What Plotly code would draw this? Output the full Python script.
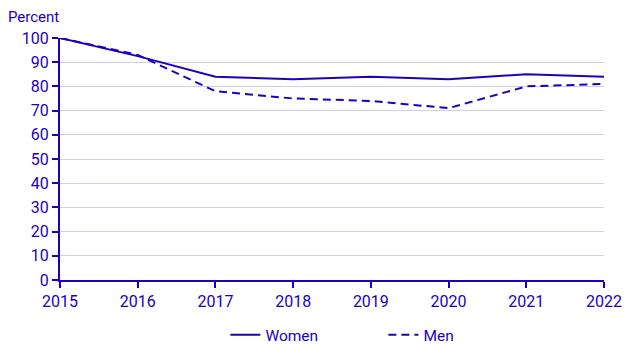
import plotly.graph_objects as go

years = [2015, 2016, 2017, 2018, 2019, 2020, 2021, 2022]
women = [100, 92.5, 84, 83, 84, 83, 85, 84]
men = [100, 93, 78, 75, 74, 71, 80, 81]

color = "#1e00be"
fig = go.Figure()
fig.add_trace(go.Scatter(x=years, y=women, mode="lines", name="Women",
                         line=dict(color=color, width=2)))
fig.add_trace(go.Scatter(x=years, y=men, mode="lines", name="Men",
                         line=dict(color=color, width=2, dash="8px,5px")))

fig.update_layout(
    width=627, height=343,
    margin=dict(l=52, r=31, t=30, b=71, autoexpand=False),
    paper_bgcolor="white", plot_bgcolor="white",
    font=dict(family="Roboto", size=16, color=color),
    showlegend=True,
    legend=dict(orientation="h", x=0.304, xanchor="left", y=-0.158, yanchor="top",
                font=dict(size=15.5, color=color), entrywidth=113),
    xaxis=dict(range=[2015, 2022], tickmode="array", tickvals=years,
               ticktext=[str(y) for y in years], showgrid=False,
               showline=True, linecolor=color, linewidth=2,
               ticks="outside", tickcolor=color, ticklen=6, tickwidth=2, zeroline=False),
    yaxis=dict(range=[0, 100], tickmode="array", tickvals=list(range(0, 101, 10)),
               showgrid=True, gridcolor="#d2cdf0", gridwidth=1,
               showline=True, linecolor=color, linewidth=2,
               ticks="outside", tickcolor=color, ticklen=6, tickwidth=2, zeroline=False),
    annotations=[dict(text="Percent", xref="paper", yref="paper", x=-0.0996, y=1.0,
                      xanchor="left", yanchor="middle", yshift=21, showarrow=False,
                      font=dict(size=15, color=color))],
)
fig.write_html("out.html")
